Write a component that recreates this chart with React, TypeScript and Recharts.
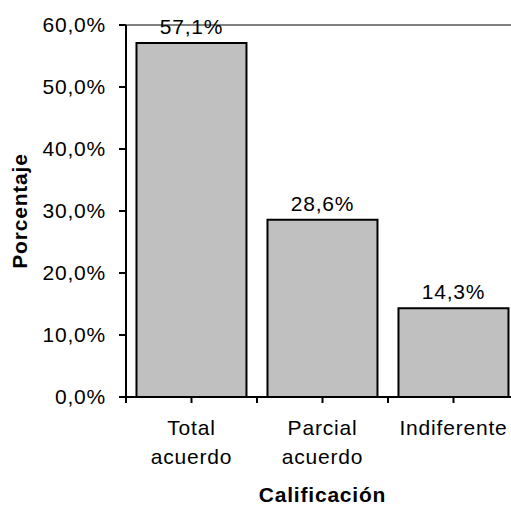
import { Bar, BarChart, LabelList, ReferenceLine, XAxis, YAxis } from "recharts";

const categorias = ["Total acuerdo", "Parcial acuerdo", "Indiferente"];
const porcentajes = [57.1, 28.6, 14.3];
const ticksY = [0, 10, 20, 30, 40, 50, 60];

const datos = categorias.map((c, i) => ({ categoria: c, valor: porcentajes[i] }));

const fuente = "'Liberation Sans', Arial, sans-serif";
const pct = (v: number) => `${v.toFixed(1).replace(".", ",")}%`;

function TickX(props: any) {
  const { x, y, payload, width } = props;
  const ancho = width / categorias.length;
  const lineas = String(payload.value).split(" ");
  const base = y - 8; // eje
  return (
    <g>
      <line x1={x} x2={x} y1={base} y2={base + 6} stroke="#000" strokeWidth={2} />
      <line x1={x - ancho / 2} x2={x - ancho / 2} y1={base} y2={base + 6} stroke="#000" strokeWidth={2} />
      <text x={x} y={base + 38} textAnchor="middle" fontFamily={fuente} fontSize={21} letterSpacing={0.8} fill="#000">
        {lineas.map((l, i) => (
          <tspan key={i} x={x} dy={i === 0 ? 0 : 29}>
            {l}
          </tspan>
        ))}
      </text>
    </g>
  );
}

function TickY(props: any) {
  const { x, y, payload } = props;
  return (
    <text x={x - 11} y={y + 7} textAnchor="end" fontFamily={fuente} fontSize={21} letterSpacing={0.8} fill="#000">
      {pct(payload.value)}
    </text>
  );
}

function EtiquetaBarra(props: any) {
  const { x, y, width, value } = props;
  return (
    <text x={x + width / 2} y={y - 9} textAnchor="middle" fontFamily={fuente} fontSize={21} letterSpacing={0.8} fill="#000">
      {pct(value)}
    </text>
  );
}

export default function App() {
  return (
    <div style={{ position: "fixed", left: 0, top: 0, width: 511, height: 510, overflow: "hidden", background: "#fff" }}>
      <BarChart
        width={520}
        height={510}
        data={datos}
        margin={{ top: 25, right: 1, bottom: 0, left: 0 }}
        barCategoryGap="8%"
      >
        <ReferenceLine y={60} stroke="#808080" strokeWidth={2} ifOverflow="extendDomain" />
        <XAxis
          dataKey="categoria"
          height={113}
          tickLine={false}
          axisLine={{ stroke: "#000", strokeWidth: 2 }}
          tick={<TickX />}
          interval={0}
          label={{
            value: "Calificación",
            position: "insideBottom",
            offset: 8,
            fontFamily: fuente,
            fontSize: 21,
            fontWeight: "bold",
            letterSpacing: 0.8,
            fill: "#000",
          }}
        />
        <YAxis
          width={126}
          domain={[0, 60]}
          ticks={ticksY}
          tickSize={7}
          tickLine={{ stroke: "#000", strokeWidth: 2 }}
          axisLine={{ stroke: "#000", strokeWidth: 2 }}
          tick={<TickY />}
          label={{
            value: "Porcentaje",
            angle: -90,
            position: "insideLeft",
            offset: 20,
            fontFamily: fuente,
            fontSize: 21,
            fontWeight: "bold",
            letterSpacing: 0.8,
            fill: "#000",
            style: { textAnchor: "middle" },
          }}
        />
        <Bar dataKey="valor" fill="#c0c0c0" stroke="#000" strokeWidth={2} isAnimationActive={false}>
          <LabelList dataKey="valor" content={<EtiquetaBarra />} />
        </Bar>
      </BarChart>
    </div>
  );
}
